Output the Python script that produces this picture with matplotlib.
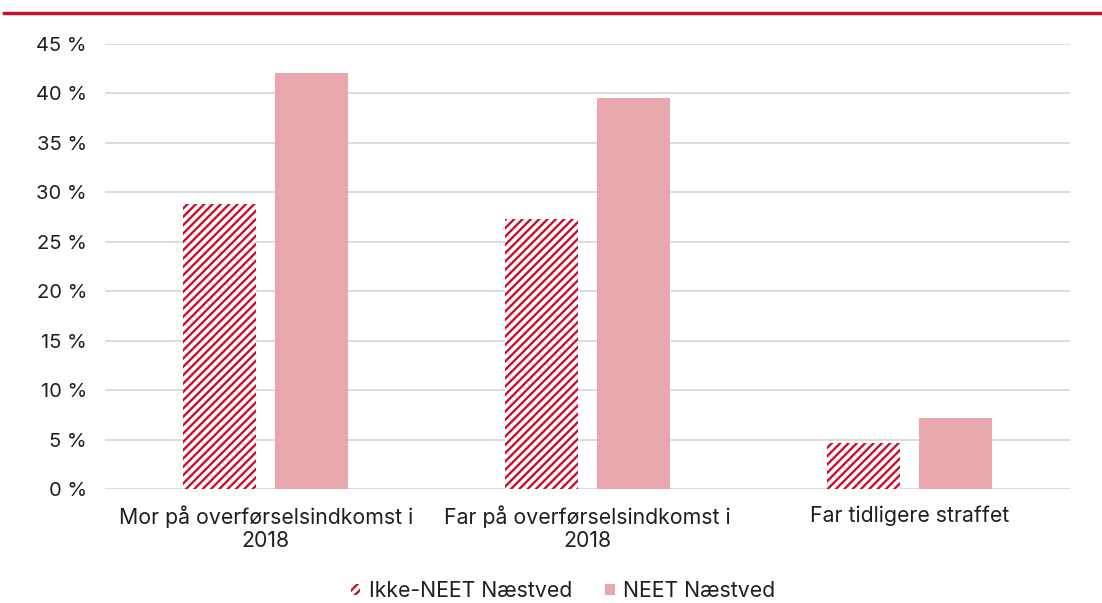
import matplotlib.pyplot as plt
import numpy as np
from matplotlib.lines import Line2D

plt.rcParams['font.family'] = ['Inter', 'DejaVu Sans']
plt.rcParams['hatch.linewidth'] = 1.7

categories = ["Mor på overførselsindkomst i\n2018", "Far på overførselsindkomst i\n2018", "Far tidligere straffet"]
series_names = ["Ikke-NEET Næstved", "NEET Næstved"]
ikke_neet = [28.8, 27.3, 4.7]
neet = [42.1, 39.5, 7.2]
yticks = [0, 5, 10, 15, 20, 25, 30, 35, 40, 45]

red = '#C8102E'
pink = '#E8A7AD'
text_col = '#1f1f1f'

fig = plt.figure(figsize=(11.02, 6.03), dpi=100)
ax = fig.add_axes([0.0953, 0.189, 0.8757, 0.738])

x = np.arange(len(categories))
w = 0.227
off = 0.143
plt.rcParams['hatch.color'] = red
ax.bar(x - off, ikke_neet, w, facecolor='white', edgecolor=red, hatch='////', linewidth=0, label=series_names[0], zorder=3)
ax.bar(x + off, neet, w, color=pink, label=series_names[1], zorder=3)

ax.set_xlim(-0.5, 2.5)
ax.set_ylim(0, 45)
ax.set_yticks(yticks)
ax.set_yticklabels([f"{v} %" for v in yticks], fontsize=14.5, color=text_col)
ax.set_xticks(x)
ax.set_xticklabels(categories, fontsize=15.3, color=text_col, linespacing=1.15)
ax.tick_params(axis='both', length=0)
ax.tick_params(axis='y', pad=13)
ax.tick_params(axis='x', pad=12)
ax.grid(axis='y', color='#d9d9d9', linewidth=1.3, zorder=0)
for s in ax.spines.values():
    s.set_visible(False)

leg = fig.legend(loc='center', bbox_to_anchor=(0.511, 0.02), ncol=2, frameon=False,
                 fontsize=15.3, handlelength=0.45, handleheight=0.45, handletextpad=0.4, columnspacing=1.55,
                 borderpad=0)
for t in leg.get_texts():
    t.set_color(text_col)

fig.add_artist(Line2D([0.004, 1.0], [1 - 13/603, 1 - 13/603], color=red, linewidth=2.5, transform=fig.transFigure))

fig.savefig('out.png', dpi=100)
